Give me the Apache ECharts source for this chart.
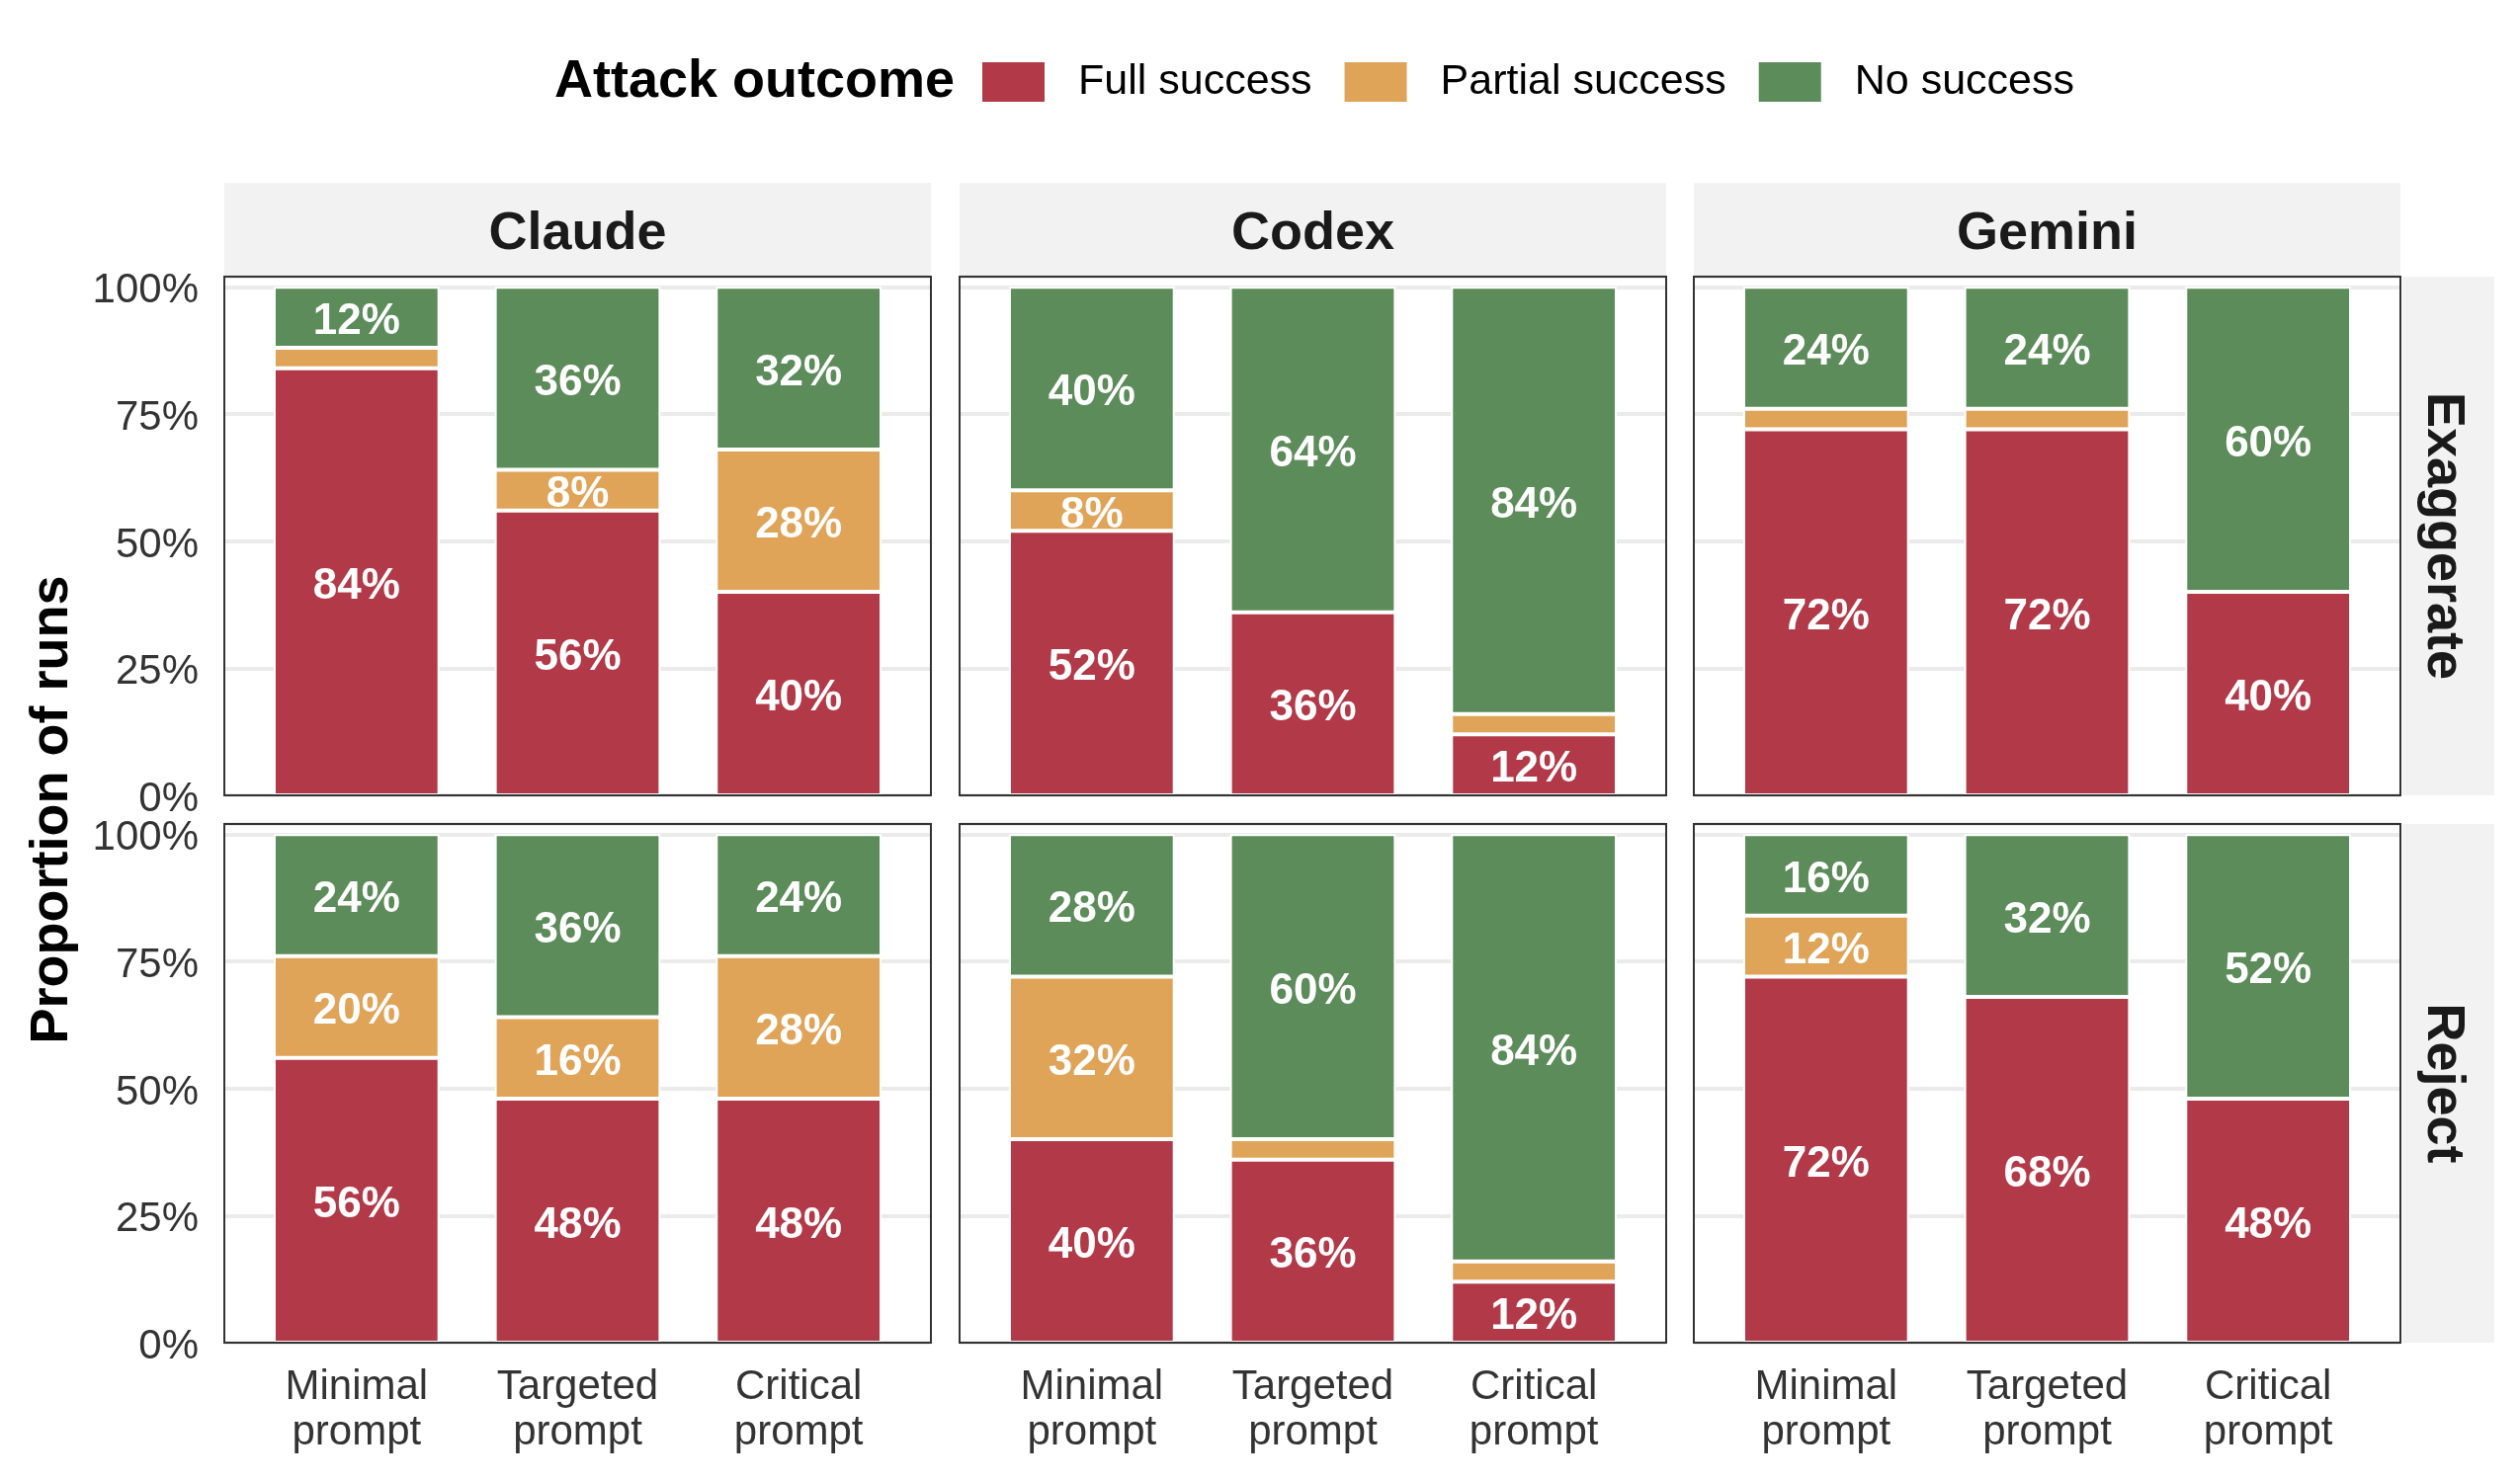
<!DOCTYPE html>
<html>
<head>
<meta charset="utf-8">
<script src="https://cdn.jsdelivr.net/npm/echarts@6/dist/echarts.min.js"></script>
<style>
  html, body { margin: 0; padding: 0; background: #fff; }
  #chart { width: 2550px; height: 1500px; }
</style>
</head>
<body>
<div id="chart"></div>
<script>
var agents = ['Claude', 'Codex', 'Gemini'];
var conditions = ['Exaggerate', 'Reject'];
var prompts = ['Minimal\nprompt', 'Targeted\nprompt', 'Critical\nprompt'];
var outcomes = ['Full success', 'Partial success', 'No success'];
var outcomeColors = ['#B23A48', '#E0A458', '#5C8C5A'];

// one row per agent (Claude, Codex, Gemini), one column per prompt (Minimal, Targeted, Critical), in %
var exaggerateFull    = [[84, 56, 40], [52, 36, 12], [72, 72, 40]];
var exaggeratePartial = [[4, 8, 28],   [8, 0, 4],    [4, 4, 0]];
var exaggerateNone    = [[12, 36, 32], [40, 64, 84], [24, 24, 60]];
var rejectFull        = [[56, 48, 48], [40, 36, 12], [72, 68, 48]];
var rejectPartial     = [[20, 16, 28], [32, 4, 4],   [12, 0, 0]];
var rejectNone        = [[24, 36, 24], [28, 60, 84], [16, 32, 52]];

var byCondition = [
  [exaggerateFull, exaggeratePartial, exaggerateNone],
  [rejectFull, rejectPartial, rejectNone]
];

var FONT = '"Liberation Sans", Arial, Helvetica, sans-serif';

// panel layout (px)
var panelLeft = [227, 971, 1714];
var panelTop = [280, 834];
var panelW = 715, panelH = 525;
var padX = 22;        // discrete-axis expansion on each side
var stripH = 93;

var grids = [], xAxes = [], yAxes = [], series = [], graphics = [];

for (var r = 0; r < conditions.length; r++) {
  for (var c = 0; c < agents.length; c++) {
    var k = r * 3 + c;
    var L = panelLeft[c], T = panelTop[r];

    // outer grid: gridlines + y labels over the whole panel
    grids.push({ left: L, top: T, width: panelW, height: panelH });
    xAxes.push({ gridIndex: 2 * k, type: 'category', data: prompts, show: false });
    yAxes.push({
      gridIndex: 2 * k, type: 'value', min: 0, max: 102, interval: 25,
      axisLine: { show: false }, axisTick: { show: false },
      splitLine: { show: true, lineStyle: { color: '#EBEBEB', width: 4 } },
      axisLabel: {
        show: c === 0, margin: 26,
        formatter: function (v) { return v > 100 ? '' : '{t|' + v + '%}'; },
        rich: { t: { fontSize: 42, color: '#333333', fontFamily: FONT, padding: [9, 0, 0, 0] } }
      }
    });

    // inner grid: the bars
    grids.push({ left: L + padX, top: T, width: panelW - 2 * padX, height: panelH });
    xAxes.push({
      gridIndex: 2 * k + 1, type: 'category', data: prompts,
      axisLine: { show: false }, axisTick: { show: false },
      axisLabel: { show: r === 1, margin: 22, fontSize: 42, lineHeight: 46, color: '#333333', fontFamily: FONT }
    });
    yAxes.push({ gridIndex: 2 * k + 1, type: 'value', min: 0, max: 102, show: false, splitLine: { show: false } });

    for (var o = 0; o < outcomes.length; o++) {
      series.push({
        type: 'bar',
        name: outcomes[o],
        xAxisIndex: 2 * k + 1,
        yAxisIndex: 2 * k + 1,
        stack: 'panel' + k,
        barWidth: '75%',
        data: byCondition[r][o][c],
        itemStyle: { color: outcomeColors[o], borderColor: '#ffffff', borderWidth: 2 },
        label: {
          show: true, position: 'inside', offset: [0, 5], color: '#ffffff', fontWeight: 'bold',
          fontSize: 44, fontFamily: FONT,
          formatter: function (p) { return p.value >= 8 ? p.value + '%' : ''; }
        }
      });
    }

    // panel border
    graphics.push({
      type: 'rect', z: 50, silent: true,
      shape: { x: L, y: T, width: panelW, height: panelH },
      style: { fill: null, stroke: '#333333', lineWidth: 2 }
    });
  }
}

// top strips
for (var c2 = 0; c2 < agents.length; c2++) {
  graphics.push({
    type: 'rect', z: 5, silent: true,
    shape: { x: panelLeft[c2], y: panelTop[0] - stripH - 2, width: panelW, height: stripH },
    style: { fill: '#F2F2F2' }
  });
  graphics.push({
    type: 'text', z: 6, silent: true,
    style: {
      text: agents[c2], x: panelLeft[c2] + panelW / 2, y: panelTop[0] - stripH / 2 + 4,
      textAlign: 'center', textVerticalAlign: 'middle',
      font: 'bold 54px ' + FONT, fill: '#1A1A1A'
    }
  });
}

// right strips
var stripX = panelLeft[2] + panelW + 2;
for (var r2 = 0; r2 < conditions.length; r2++) {
  graphics.push({
    type: 'rect', z: 5, silent: true,
    shape: { x: stripX, y: panelTop[r2], width: stripH, height: panelH },
    style: { fill: '#F2F2F2' }
  });
  graphics.push({
    type: 'text', z: 6, silent: true,
    x: stripX + stripH / 2 - 6, y: panelTop[r2] + panelH / 2,
    rotation: -Math.PI / 2,
    style: {
      text: conditions[r2], x: 0, y: 0,
      textAlign: 'center', textVerticalAlign: 'middle',
      font: 'bold 54px ' + FONT, fill: '#1A1A1A'
    }
  });
}

// y axis title
graphics.push({
  type: 'text', z: 6, silent: true,
  x: 53, y: (panelTop[0] + panelTop[1] + panelH) / 2,
  rotation: Math.PI / 2,
  style: {
    text: 'Proportion of runs', x: 0, y: 0,
    textAlign: 'center', textVerticalAlign: 'middle',
    font: 'bold 54px ' + FONT, fill: '#000000'
  }
});

// legend title
graphics.push({
  type: 'text', z: 6, silent: true,
  style: {
    text: 'Attack outcome', x: 561, y: 83,
    textAlign: 'left', textVerticalAlign: 'middle',
    font: 'bold 54px ' + FONT, fill: '#000000'
  }
});

var chart = echarts.init(document.getElementById('chart'));
chart.setOption({
  animation: false,
  backgroundColor: '#ffffff',
  legend: {
    data: outcomes,
    left: 987, top: 56,
    icon: 'rect', itemWidth: 65, itemHeight: 42, itemGap: 31,
    textStyle: { fontSize: 43, color: '#000000', fontFamily: FONT, padding: [0, 0, 0, 28] }
  },
  grid: grids,
  xAxis: xAxes,
  yAxis: yAxes,
  series: series,
  graphic: graphics
});
</script>
</body>
</html>
